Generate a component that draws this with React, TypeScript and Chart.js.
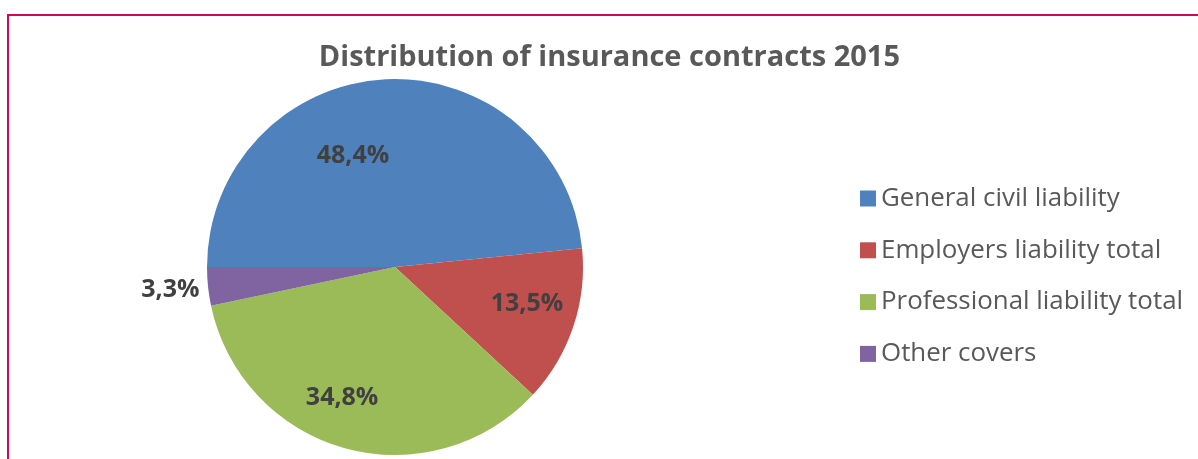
import React, { useEffect, useRef } from "react";
import { Chart, registerables, Plugin } from "chart.js";

Chart.register(...registerables);

// ---- data ----
const categories = [
  "General civil liability",
  "Employers liability total",
  "Professional liability total",
  "Other covers",
];
const shares = [48.4, 13.5, 34.8, 3.3];
const chartTitle = "Distribution of insurance contracts 2015";

// ---- styles ----
const sliceColors = ["#4F81BD", "#C0504D", "#9BBB59", "#8064A2"];
// label placement relative to each slice: angle shift (deg) and radius factor
const labelAngleShift = [-17.5, -3.5, 6.8, 0.7];
const labelRadiusFactor = [0.641, 0.727, 0.742, 1.2];

const FONT = '"Open Sans", "Liberation Sans", sans-serif';
// the canvas starts this far left of the visible frame (clipped), so the
// plot area can extend to the left of the frame while the pie keeps its place
const SHIFT = 119;
const VIEW_W = 1189;
const VIEW_H = 443;

const sliceLabels: Plugin<"pie"> = {
  id: "sliceLabels",
  afterDatasetsDraw(chart) {
    const ctx = chart.ctx;
    const meta = chart.getDatasetMeta(0);
    const values = chart.data.datasets[0].data as number[];
    ctx.save();
    ctx.font = `bold 25px ${FONT}`;
    ctx.fillStyle = "#404040";
    ctx.textAlign = "center";
    ctx.textBaseline = "alphabetic";
    const asc = ctx.measureText("0").actualBoundingBoxAscent;
    meta.data.forEach((el: any, i: number) => {
      const p = el.getProps(["x", "y", "startAngle", "endAngle", "outerRadius"], true);
      const a = (p.startAngle + p.endAngle) / 2 + (labelAngleShift[i] * Math.PI) / 180;
      const r = p.outerRadius * labelRadiusFactor[i];
      const txt = values[i].toFixed(1).replace(".", ",") + "%";
      const x = p.x + Math.cos(a) * r;
      const y = p.y + Math.sin(a) * r;
      ctx.fillText(txt, x, y + asc / 2);
    });
    ctx.restore();
  },
};

const sideLegend: Plugin<"pie"> = {
  id: "sideLegend",
  afterDraw(chart, _args, opts: any) {
    const ctx = chart.ctx;
    const labels = chart.data.labels as string[];
    const colors = chart.data.datasets[0].backgroundColor as string[];
    ctx.save();
    ctx.font = `${opts.fontSize}px ${FONT}`;
    ctx.textBaseline = "middle";
    ctx.textAlign = "left";
    labels.forEach((lab, i) => {
      const cy = opts.y + i * opts.step;
      ctx.fillStyle = colors[i];
      ctx.fillRect(opts.x, cy - opts.box / 2, opts.box, opts.box);
      ctx.fillStyle = opts.color;
      ctx.fillText(lab, opts.textX, cy);
    });
    ctx.restore();
  },
};

export default function App() {
  const ref = useRef<HTMLCanvasElement>(null);
  useEffect(() => {
    if (!ref.current) return;
    const chart = new Chart(ref.current, {
      type: "pie",
      data: {
        labels: categories,
        datasets: [
          {
            data: shares,
            backgroundColor: sliceColors,
            borderWidth: 0,
          },
        ],
      },
      options: {
        responsive: false,
        animation: false,
        rotation: -90,
        layout: { padding: { left: 0, right: 298, top: 0, bottom: 4 } },
        plugins: {
          legend: { display: false },
          tooltip: { enabled: false },
          title: {
            display: true,
            text: chartTitle,
            align: "end",
            color: "#595959",
            font: { family: FONT, size: 29, weight: "bold", lineHeight: 1.2 },
            padding: { top: 24, bottom: 4.2 },
          },
          sideLegend: {
            x: 851 + SHIFT,
            y: 182.5,
            step: 51.8,
            box: 16,
            textX: 872 + SHIFT,
            fontSize: 25.9,
            color: "#595959",
          },
        } as any,
      },
      plugins: [sliceLabels, sideLegend],
    });
    return () => chart.destroy();
  }, []);
  return (
    <div
      style={{
        position: "absolute",
        left: 7,
        top: 14,
        width: VIEW_W + 2,
        height: VIEW_H + 2,
        boxSizing: "border-box",
        borderTop: "2px solid #CC0B5C",
        borderLeft: "2px solid #CC0B5C",
        background: "#FFFFFF",
        overflow: "hidden",
      }}
    >
      <canvas
        ref={ref}
        width={VIEW_W + SHIFT}
        height={VIEW_H}
        style={{ display: "block", position: "relative", left: -SHIFT, width: VIEW_W + SHIFT, height: VIEW_H }}
      />
    </div>
  );
}
